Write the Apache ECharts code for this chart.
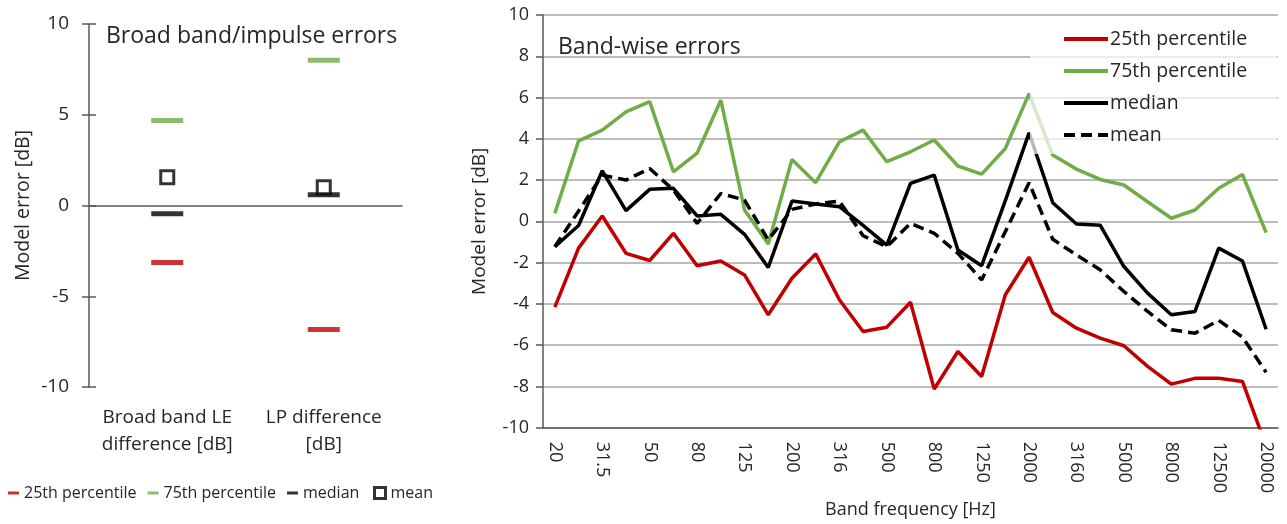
<!DOCTYPE html>
<html>
<head>
<meta charset="utf-8">
<script src="https://cdn.jsdelivr.net/npm/echarts@6/dist/echarts.min.js"></script>
<style>
  html, body { margin: 0; padding: 0; background: #fff; }
  #chart { width: 1287px; height: 524px; }
</style>
</head>
<body>
<div id="chart"></div>
<script>
// left panel: broad band / impulse errors
const boxCats = ['Broad band LE\ndifference [dB]', 'LP difference\n[dB]']
const bb25 = [-3.14, -6.83]
const bb75 = [4.68, 8.0]
const bbMedian = [-0.46, 0.59]
const bbMean = [1.56, 1.0]

// right panel: band-wise errors (1/3 octave bands)
const bands = ['20', '25', '31.5', '40', '50', '63', '80', '100', '125', '160', '200', '250', '316', '400',
  '500', '630', '800', '1000', '1250', '1600', '2000', '2500', '3160', '4000', '5000', '6300', '8000',
  '10000', '12500', '16000', '20000']
const p25 = [-4.16, -1.3, 0.26, -1.55, -1.9, -0.58, -2.15, -1.92, -2.6, -4.53, -2.76, -1.58, -3.8, -5.34,
  -5.13, -3.92, -8.13, -6.31, -7.52, -3.56, -1.74, -4.42, -5.18, -5.66, -6.03, -7.03, -7.89, -7.61,
  -7.61, -7.76, -10.9]
const p75 = [0.39, 3.9, 4.42, 5.3, 5.8, 2.4, 3.3, 5.87, 0.55, -1.1, 3.0, 1.87, 3.85, 4.42, 2.89, 3.37,
  3.94, 2.68, 2.29, 3.53, 6.19, 3.21, 2.53, 2.03, 1.76, 0.95, 0.15, 0.55, 1.6, 2.27, -0.55]
const median = [-1.23, -0.2, 2.45, 0.52, 1.55, 1.6, 0.26, 0.34, -0.63, -2.24, 0.98, 0.84, 0.71, -0.2,
  -1.15, 1.84, 2.24, -1.39, -2.15, 1.0, 4.29, 0.9, -0.13, -0.19, -2.19, -3.48, -4.53, -4.37, -1.3,
  -1.92, -5.23]
const mean = [-1.23, 0.5, 2.24, 2.0, 2.56, 1.52, -0.1, 1.35, 1.03, -0.9, 0.58, 0.84, 0.98, -0.7, -1.23,
  -0.1, -0.58, -1.55, -2.84, -0.5, 1.87, -0.87, -1.63, -2.35, -3.4, -4.37, -5.26, -5.42, -4.8, -5.61,
  -7.32]

const RED = '#c00000'
const GREEN = '#70ad47'
const BLACK = '#000'
const TXT = '#262626'
const AX = '#595959'
const FONT = 'Open Sans'

const leftNames = { L25: '25th percentile', L75: '75th percentile', Lmed: 'median', Lmean: 'mean' }

const chart = echarts.init(document.getElementById('chart'))

const lineSeries = (name, data, color, dashed) => ({
  name,
  type: 'line',
  xAxisIndex: 3,
  yAxisIndex: 2,
  data,
  symbol: 'none',
  clip: true,
  lineStyle: { color, width: 3.5, type: dashed ? [11, 6] : 'solid' },
  itemStyle: { color },
  z: 3,
})

const dashSeries = (name, data, color) => ({
  name,
  type: 'scatter',
  xAxisIndex: 0,
  yAxisIndex: 0,
  data,
  symbol: 'rect',
  symbolSize: [32, 5],
  itemStyle: { color },
  z: 3,
})

chart.setOption({
  textStyle: { fontFamily: FONT },
  animation: false,
  title: [
    { text: 'Broad band/impulse errors', left: 101, top: 20, textStyle: { fontFamily: FONT, fontSize: 23, fontWeight: 'normal', color: TXT } },
    { text: 'Band-wise errors', left: 553, top: 31, textStyle: { fontFamily: FONT, fontSize: 23, fontWeight: 'normal', color: TXT } },
  ],
  legend: [
    {
      data: ['L25', 'L75', 'Lmed'],
      formatter: (n) => leftNames[n],
      left: 3,
      top: 480,
      itemWidth: 11,
      itemHeight: 3,
      itemGap: 11,
      icon: 'rect',
      itemStyle: { borderWidth: 0 },
      textStyle: { fontFamily: FONT, fontSize: 16, color: TXT },
    },
    {
      data: ['Lmean'],
      formatter: (n) => leftNames[n],
      left: 368,
      top: 480,
      itemWidth: 11,
      itemHeight: 11,
      icon: 'rect',
      itemStyle: { color: '#fff', borderColor: '#000', borderWidth: 3 },
      textStyle: { fontFamily: FONT, fontSize: 16, color: TXT },
    },
    {
      data: ['25th percentile', '75th percentile', 'median', 'mean'],
      orient: 'vertical',
      left: 1030,
      top: 20,
      padding: [9, 30, 9, 32],
      itemWidth: 44,
      itemHeight: 18,
      itemGap: 12,
      backgroundColor: 'rgba(255,255,255,0.72)',
      lineStyle: { width: 4 },
      itemStyle: { opacity: 0 },
      textStyle: { fontFamily: FONT, fontSize: 19.5, color: TXT, padding: [0, 0, 0, -3] },
    },
  ],
  grid: [
    { left: 89, top: 24, width: 313, height: 363 },
    { left: 543, top: 15, width: 735, height: 413 },
  ],
  xAxis: [
    // left: axis line at zero with downward ticks
    {
      type: 'category', gridIndex: 0, data: boxCats,
      axisLine: { onZero: true, lineStyle: { color: AX, width: 1.5 } },
      axisTick: { length: 7, lineStyle: { color: AX, width: 1.5 } },
      axisLabel: { show: false },
    },
    // left: upward half of the cross ticks
    {
      type: 'category', gridIndex: 0, data: boxCats, position: 'bottom',
      axisLine: { show: false, onZero: true },
      axisTick: { inside: true, length: 7, lineStyle: { color: AX, width: 1.5 } },
      axisLabel: { show: false },
    },
    // left: category labels at the bottom
    {
      type: 'category', gridIndex: 0, data: boxCats, position: 'bottom',
      axisLine: { show: false, onZero: false },
      axisTick: { show: false },
      axisLabel: { interval: 0, margin: 17, fontSize: 19, lineHeight: 27, color: TXT, fontFamily: FONT },
    },
    // right: band axis
    {
      type: 'category', gridIndex: 1, data: bands,
      axisLine: { onZero: false, lineStyle: { color: AX, width: 1.5 } },
      axisTick: { length: 7, interval: 0, lineStyle: { color: AX, width: 1.5 } },
      axisLabel: { interval: 1, rotate: -90, margin: 14, fontSize: 18, color: TXT, fontFamily: FONT },
      name: 'Band frequency [Hz]', nameLocation: 'middle', nameGap: 68,
      nameTextStyle: { fontSize: 18, color: TXT, fontFamily: FONT },
    },
    {
      type: 'category', gridIndex: 1, data: bands, position: 'bottom',
      axisLine: { show: false, onZero: false },
      axisTick: { inside: true, length: 7, interval: 0, lineStyle: { color: AX, width: 1.5 } },
      axisLabel: { show: false },
    },
  ],
  yAxis: [
    {
      type: 'value', gridIndex: 0, min: -10, max: 10, interval: 5,
      axisLine: { show: true, onZero: false, lineStyle: { color: AX, width: 1.5 } },
      axisTick: { show: true, length: 7, lineStyle: { color: AX, width: 1.5 } },
      splitLine: { show: false },
      axisLabel: { margin: 20, fontSize: 19, color: TXT, fontFamily: FONT },
      name: 'Model error [dB]', nameLocation: 'middle', nameGap: 56,
      nameTextStyle: { fontSize: 19.5, color: TXT, fontFamily: FONT },
    },
    {
      type: 'value', gridIndex: 0, min: -10, max: 10, interval: 5, position: 'left',
      axisLine: { show: false, onZero: false },
      axisTick: { show: true, inside: true, length: 7, lineStyle: { color: AX, width: 1.5 } },
      splitLine: { show: false },
      axisLabel: { show: false },
    },
    {
      type: 'value', gridIndex: 1, min: -10, max: 10, interval: 2,
      axisLine: { show: true, onZero: false, lineStyle: { color: AX, width: 1.5 } },
      axisTick: { show: true, length: 7, lineStyle: { color: AX, width: 1.5 } },
      splitLine: { show: true, lineStyle: { color: '#a6a6a6', width: 1.5 } },
      axisLabel: { margin: 14, fontSize: 18, color: TXT, fontFamily: FONT },
      name: 'Model error [dB]', nameLocation: 'middle', nameGap: 54,
      nameTextStyle: { fontSize: 19, color: TXT, fontFamily: FONT },
    },
  ],
  series: [
    lineSeries('25th percentile', p25, RED),
    lineSeries('75th percentile', p75, GREEN),
    lineSeries('median', median, BLACK),
    lineSeries('mean', mean, BLACK, true),
    dashSeries('L25', bb25, RED),
    dashSeries('L75', bb75, GREEN),
    dashSeries('Lmed', bbMedian, BLACK),
    {
      name: 'Lmean',
      type: 'scatter',
      xAxisIndex: 0,
      yAxisIndex: 0,
      data: bbMean,
      symbol: 'rect',
      symbolSize: 13,
      itemStyle: { color: '#fff', borderColor: '#000', borderWidth: 3 },
      z: 4,
    },
  ],
})
</script>
</body>
</html>
